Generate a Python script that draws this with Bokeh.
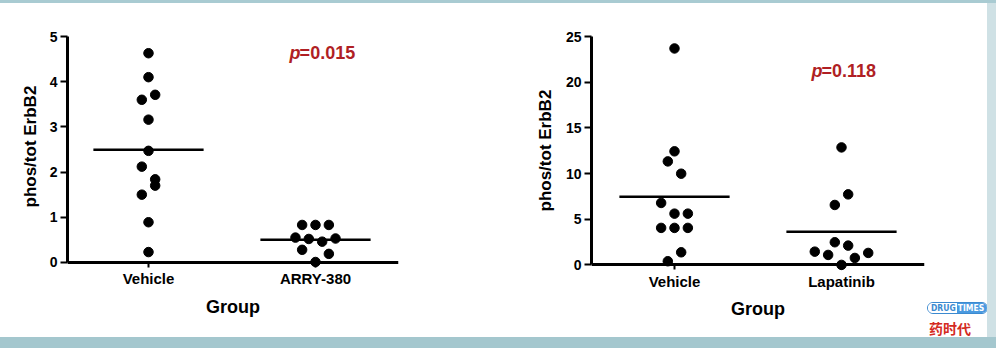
import numpy as np
from bokeh.plotting import figure
from bokeh.models import Range1d, FixedTicker, Label, Div, Title
from bokeh.layouts import row, column
from bokeh.embed import file_html
from bokeh.resources import INLINE

# ---------------- data ----------------
left_groups = ["Vehicle", "ARRY-380"]
left_vehicle = [4.63, 4.10, 3.60, 3.71, 3.16, 2.47, 2.12, 1.84, 1.70, 1.50, 0.89, 0.23]
left_vehicle_slot = [0, 0, -1, 1, 0, 0, -1, 1, 1, -1, 0, 0]
left_arry = [0.83, 0.83, 0.83, 0.55, 0.52, 0.46, 0.53, 0.28, 0.19, 0.01]
left_arry_slot = [-2, 0, 2, -3, -1, 1, 3, -2, 2, 0]
left_yticks = [0, 1, 2, 3, 4, 5]
left_p = "=0.015"

right_groups = ["Vehicle", "Lapatinib"]
right_vehicle = [23.69, 12.43, 11.33, 9.98, 6.78, 5.61, 5.61, 4.05, 4.05, 4.05, 1.38, 0.40]
right_vehicle_slot = [0, 0, -1, 1, -2, 0, 2, -2, 0, 2, 1, -1]
right_lap = [12.86, 7.72, 6.56, 2.48, 2.11, 1.45, 1.09, 1.31, 0.76, 0.0]
right_lap_slot = [0, 1, -1, -1, 1, -4, -2, 4, 2, 0]
right_yticks = [0, 5, 10, 15, 20, 25]
right_p = "=0.118"

y_label = "phos/tot ErbB2"
x_label = "Group"

FONT = "Liberation Sans"
RED = "#b01f24"
SLOT = 0.04
HALF = 0.33


def make_panel(groups, series, slots, yticks, ptext, p_xy, width, height,
               borders, xr, yr, ylab_offset, ylab_standoff):
    p = figure(width=width, height=height, output_backend="svg",
               toolbar_location=None, x_range=Range1d(*xr), y_range=Range1d(*yr),
               min_border_left=borders[0], min_border_right=borders[1],
               min_border_top=borders[2], min_border_bottom=borders[3],
               margin=(0, 0, 0, 0))
    p.outline_line_color = None
    p.grid.visible = False
    p.background_fill_color = "white"
    p.border_fill_color = "white"

    for gi, (vals, sl) in enumerate(zip(series, slots)):
        xs = [gi + s * SLOT for s in sl]
        p.scatter(xs, vals, size=9.5, color="black")
        m = float(np.mean(vals))
        p.segment(x0=[gi - HALF], y0=[m], x1=[gi + HALF], y1=[m],
                  line_color="black", line_width=2.5)

    xa = p.xaxis[0]
    xa.fixed_location = 0
    xa.ticker = FixedTicker(ticks=list(range(len(groups))))
    xa.major_label_overrides = {i: g for i, g in enumerate(groups)}
    xa.axis_label = x_label
    xa.axis_line_width = 3
    xa.axis_line_color = "black"
    xa.major_tick_line_width = 2
    xa.major_tick_line_color = "black"
    xa.major_tick_out = 5
    xa.major_tick_in = 0
    xa.minor_tick_line_color = None
    xa.major_label_text_font = FONT
    xa.major_label_text_font_style = "bold"
    xa.major_label_text_font_size = "15px"
    xa.major_label_text_color = "black"
    xa.major_label_standoff = 3
    xa.axis_label_text_font = FONT
    xa.axis_label_text_font_style = "bold"
    xa.axis_label_text_font_size = "18px"
    xa.axis_label_text_color = "black"
    xa.axis_label_standoff = 6

    ya = p.yaxis[0]
    ya.ticker = FixedTicker(ticks=yticks)
    ya.bounds = (yticks[0], yticks[-1])
    ya.axis_line_width = 3
    ya.axis_line_color = "black"
    ya.major_tick_line_width = 2
    ya.major_tick_line_color = "black"
    ya.major_tick_out = 7
    ya.major_tick_in = 0
    ya.minor_tick_line_color = None
    ya.major_label_text_font = FONT
    ya.major_label_text_font_style = "bold"
    ya.major_label_text_font_size = "14px"
    ya.major_label_text_color = "black"
    ya.major_label_standoff = 3

    # y-axis title, centred on the 0..max span of the axis (not the frame)
    p.add_layout(Title(text=y_label, align="left", offset=ylab_offset,
                       vertical_align="middle", standoff=ylab_standoff,
                       text_font=FONT, text_font_style="bold",
                       text_font_size="17px", text_color="black"), "left")

    p.add_layout(Label(x=p_xy[0], y=p_xy[1], text="p", text_color=RED,
                       text_font=FONT, text_font_style="bold italic",
                       text_font_size="18px", text_baseline="middle"))
    p.add_layout(Label(x=p_xy[0], y=p_xy[1], x_offset=10, text=ptext,
                       text_color=RED, text_font=FONT, text_font_style="bold",
                       text_font_size="18px", text_baseline="middle"))
    return p


p1 = make_panel(left_groups, [left_vehicle, left_arry],
                [left_vehicle_slot, left_arry_slot], left_yticks, left_p,
                (0.845, 4.63), 500, 334, (67, 102, 29, 4),
                (-0.485, 1.497), (-1.572, 5), 126, 12)

p2 = make_panel(right_groups, [right_vehicle, right_lap],
                [right_vehicle_slot, right_lap_slot], right_yticks, right_p,
                (0.82, 21.25), 426, 334, (91, 2, 33, 4),
                (-0.497, 1.497), (-7.51, 25), 122, 14)

logo_html = (
    '<div style="position:relative;width:61px;height:35px;font-size:0;">'
    '<div style="position:absolute;left:1px;top:0px;white-space:nowrap;'
    'border:1.5px solid #3b8ad0;border-radius:7px;overflow:hidden;'
    'font-family:\'DejaVu Sans Condensed\';font-weight:bold;font-size:8.5px;'
    'line-height:10px;">'
    '<span style="color:#3b8ad0;background:white;padding:0 1px 0 3px;">DRUG</span>'
    '<span style="color:white;background:#4a9ae0;padding:0 3px 0 1px;">TIMES</span>'
    '</div>'
    '<div style="position:absolute;left:3px;top:19px;white-space:nowrap;'
    'color:#d42a22;font-family:\'Noto Sans CJK SC\';font-weight:bold;'
    'font-size:14px;line-height:15px;">药时代</div>'
    '</div>'
)

blank = Div(text="", width=61, height=299, margin=(0, 0, 0, 0),
            styles={"background-color": "white", "overflow": "hidden"})
logo = Div(text=logo_html, width=61, height=35, margin=(0, 0, 0, 0),
           styles={"background-color": "white", "overflow": "hidden"})

top_band = Div(text="", width=996, height=3, margin=(0, 0, 0, 0),
               styles={"background-color": "#a9cbd2", "overflow": "hidden"})
right_band = Div(text="", width=9, height=334, margin=(0, 0, 0, 0),
                 styles={"background-color": "#cfe1e5", "overflow": "hidden"})
bottom_band = Div(text="", width=996, height=11, margin=(0, 0, 0, 0),
                  styles={"background-color": "#a4c7ce", "overflow": "hidden"})

layout = column(top_band,
                row(p1, p2, column(blank, logo, spacing=0), right_band, spacing=0),
                bottom_band, spacing=0)

open("out.html", "w").write(file_html(layout, INLINE))
